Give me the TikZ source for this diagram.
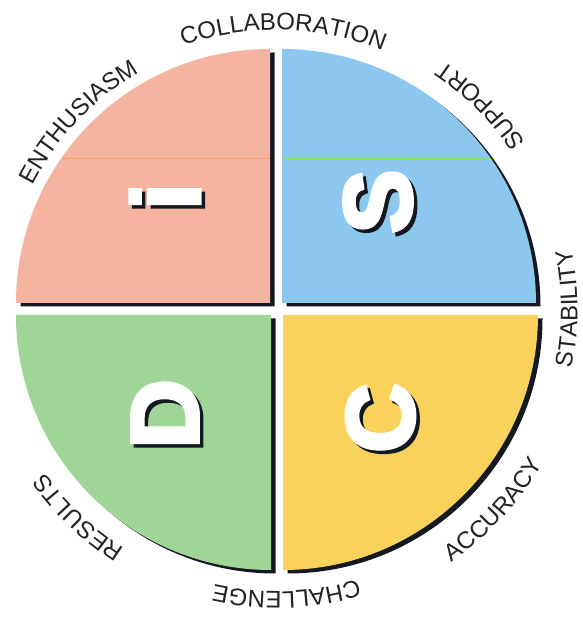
\documentclass[tikz,border=0pt]{standalone}
\usepackage{fontspec}
\setmainfont{Liberation Sans}
\newfontfamily\bigfont{Liberation Sans Bold}[FakeBold=4]
\usetikzlibrary{decorations.text}
\definecolor{qpink}{HTML}{F4B4A0}
\definecolor{qblue}{HTML}{8CC8EE}
\definecolor{qgreen}{HTML}{A0D598}
\definecolor{qyellow}{HTML}{F8D25A}
\definecolor{shad}{HTML}{141820}
\definecolor{txtc}{HTML}{222222}
\newcommand\lblfont{\fontsize{24}{24}\selectfont}
\newcommand\cwlabel[3]{\path[decorate,decoration={text along path,text align=center,text color=txtc,text={|\lblfont|#3}}] ([shift={(#1+60:#2)}]c) arc[start angle=#1+60,end angle=#1-60,radius=#2];}
\newcommand\ccwlabel[3]{\path[decorate,decoration={text along path,text align=center,text color=txtc,text={|\lblfont|#3}}] ([shift={(#1-60:#2)}]c) arc[start angle=#1-60,end angle=#1+60,radius=#2];}
\newcommand\bigletter[3]{%
  \node[letter,text=shad] at ([shift={(3.5,-3.5)}]#1) {#3};
  \node[letter,text=white] (#2) at (#1) {#3};}
\tikzset{
  x=1pt,y=1pt,
  letter/.style={inner sep=0pt,rotate=90,font=\bigfont\fontsize{96}{96}\selectfont},
  quadshadow/.style={fill=shad},
}
\begin{document}
\begin{tikzpicture}
\useasboundingbox (0,0) rectangle (582,623);
\fill[white] (0,0) rectangle (582,623);
\coordinate (c) at (276.5,313);
\coordinate (ci) at (270,320);
\coordinate (cs) at (282,320);
\coordinate (cd) at (271,308);
\coordinate (cc) at (283,308);
% shadows
\fill[quadshadow] ([shift={(4.5,-3.5)}]ci) -- ++(-254,0) arc[start angle=180,end angle=90,radius=254] -- cycle;
\fill[quadshadow] ([shift={(4.5,-3.5)}]cs) -- ++(0,254) arc[start angle=90,end angle=0,radius=254] -- cycle;
\fill[quadshadow] ([shift={(4.5,-3.5)}]cd) -- ++(-255,0) arc[start angle=180,end angle=270,radius=255] -- cycle;
\fill[quadshadow] ([shift={(4.5,-3.5)}]cc) -- ++(0,-255) arc[start angle=270,end angle=360,radius=255] -- cycle;
% quadrants
\fill[qpink] (ci) -- ++(-254,0) arc[start angle=180,end angle=90,radius=254] -- cycle;
\fill[qblue] (cs) -- ++(0,254) arc[start angle=90,end angle=0,radius=254] -- cycle;
\fill[qgreen] (cd) -- ++(-255,0) arc[start angle=180,end angle=270,radius=255] -- cycle;
\fill[qyellow] (cc) -- ++(0,-255) arc[start angle=270,end angle=360,radius=255] -- cycle;
% faint scan line
\draw[orange!80,line width=0.6pt,opacity=0.6] (62,465) -- (270,465);
\draw[green!60!yellow,line width=0.6pt,opacity=0.6] (282,465) -- (490,465);
% letters
\bigletter{165,426.5}{li}{i}
\bigletter{378,421.5}{ls}{S}
\bigletter{165,209}{ld}{D}
\bigletter{380.5,205}{lc}{C}
% labels
\cwlabel{88.6}{280}{COLLABORATION}
\cwlabel{136.5}{274}{ENTHUSIASM}
\cwlabel{226.3}{283}{RESULTS}
\cwlabel{272}{281.5}{CHALLENGE}
\ccwlabel{-42.6}{307}{ACCURACY}
\ccwlabel{0.3}{301}{STABILITY}
\ccwlabel{45}{300}{SUPPORT}
\end{tikzpicture}
\end{document}
